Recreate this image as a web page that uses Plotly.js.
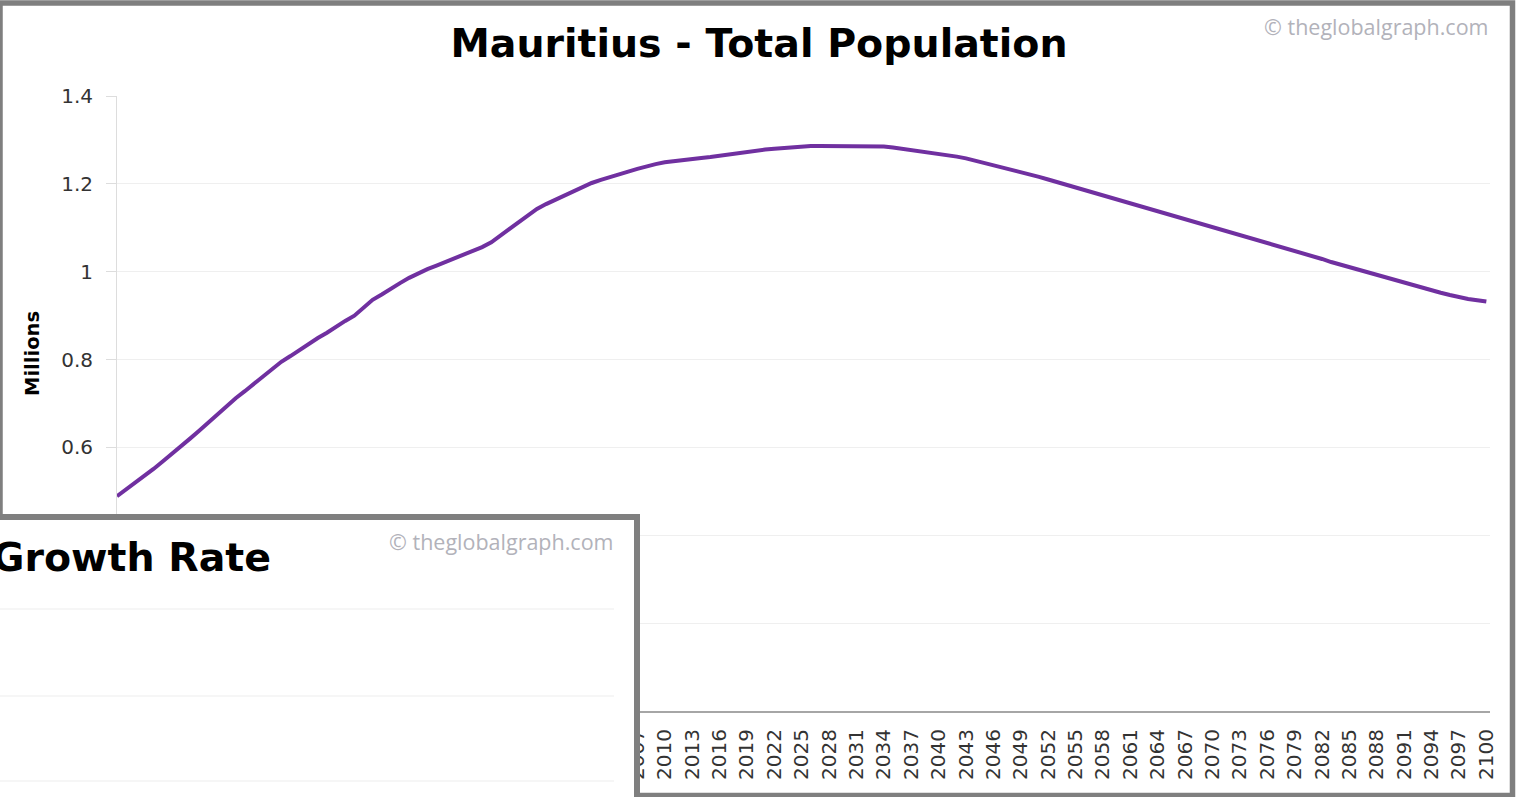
<!DOCTYPE html>
<html>
<head>
<meta charset="utf-8">
<script src="https://cdn.plot.ly/plotly-3.0.1.min.js"></script>
<style>
html,body{margin:0;padding:0;background:#fff;overflow:hidden;}
#chart{width:1518px;height:797px;}
</style>
</head>
<body>
<div id="chart"></div>
<script>
// ---- data ----
const years = [];
for (let y = 1950; y <= 2100; y++) years.push(y);

const populationMillions = [
  0.489,0.504,0.520,0.535,0.551,0.568,0.585,0.601,0.620,0.638, // 1950-1959
  0.657,0.676,0.694,0.712,0.728,0.745,0.762,0.778,0.795,0.808, // 1960-1969
  0.822,0.835,0.849,0.861,0.875,0.888,0.900,0.918,0.936,0.948, // 1970-1979
  0.962,0.974,0.986,0.997,1.006,1.014,1.022,1.030,1.038,1.047, // 1980-1989
  1.056,1.067,1.082,1.097,1.113,1.128,1.143,1.154,1.164,1.174, // 1990-1999
  1.184,1.194,1.202,1.209,1.216,1.222,1.228,1.234,1.240,1.245, // 2000-2009
  1.249,1.252,1.255,1.257,1.259,1.261,1.264,1.268,1.271,1.273, // 2010-2019
  1.276,1.278,1.280,1.282,1.284,1.285,1.286,1.286,1.286,1.286, // 2020-2029
  1.286,1.286,1.286,1.286,1.285,1.283,1.280,1.277,1.275,1.273, // 2030-2039
  1.270,1.266,1.262,1.258,1.253,1.248,1.243,1.238,1.233,1.228, // 2040-2049
  1.222,1.216,1.210,1.204,1.198,1.192,1.186,1.180,1.174,1.168, // 2050-2059
  1.162,1.156,1.150,1.145,1.139,1.133,1.127,1.121,1.115,1.109, // 2060-2069
  1.103,1.097,1.091,1.085,1.079,1.073,1.067,1.061,1.054,1.048, // 2070-2079
  1.042,1.035,1.029,1.022,1.016,1.010,1.004,0.998,0.992,0.986, // 2080-2089
  0.980,0.974,0.968,0.962,0.957,0.952,0.947,0.942,0.938,0.935, // 2090-2099
  0.932                                                         // 2100
];

// labels for 0 - 0.4 sit under the overlapping window in the reference
const yTickValues = [0, 0.2, 0.4, 0.6, 0.8, 1, 1.2, 1.4];
const yTickLabels = ["", "", "", "0.6", "0.8", "1", "1.2", "1.4"];

const mainTitle = "Mauritius - Total Population";
const insetTitle = "Growth Rate";
const watermark = "\u00a9 theglobalgraph.com";
const yTitle = "Millions";

// ---- layout helpers (pixel -> paper) ----
const W = 1518, H = 797;
const M = {l: 117, r: 28, t: 96, b: 86};
const PW = W - M.l - M.r, PH = H - M.t - M.b;
const px = v => (v - M.l) / PW;
const py = v => (H - M.b - v) / PH;

const FONT = "DejaVu Sans, Verdana, sans-serif";
const WFONT = "Open Sans, sans-serif";
const GREY = "#7f7f7f";

const trace = {
  type: "scatter",
  mode: "lines",
  x: years,
  y: populationMillions,
  line: {color: "#7030a0", width: 4},
  hoverinfo: "skip"
};

const shapes = [
  // outer window frame
  {type: "rect", xref: "paper", yref: "paper", layer: "above",
   x0: px(0), x1: px(1512.5), y0: py(3), y1: py(795.5),
   line: {color: GREY, width: 5.5}, fillcolor: "rgba(0,0,0,0)"},
  // overlapping second window (growth-rate chart)
  {type: "rect", xref: "paper", yref: "paper", layer: "above",
   x0: px(-20), x1: px(637), y0: py(517), y1: py(830),
   line: {color: GREY, width: 6}, fillcolor: "#ffffff"}
];
[609, 696, 781].forEach(g => shapes.push({
  type: "line", xref: "paper", yref: "paper", layer: "above",
  x0: px(-5), x1: px(614), y0: py(g), y1: py(g),
  line: {color: "#eeeeee", width: 1.2}
}));

const annotations = [
  {text: "<b>" + yTitle + "</b>", xref: "paper", yref: "paper",
   x: px(32), y: py(354), xanchor: "center", yanchor: "middle",
   textangle: -90, showarrow: false,
   font: {family: FONT, size: 19.5, color: "#000000"}},
  {text: watermark, xref: "paper", yref: "paper", x: px(1491), y: py(27),
   xanchor: "right", yanchor: "middle", showarrow: false,
   font: {family: WFONT, size: 21.5, color: "#b2b2ba"}},
  {text: "<b>" + insetTitle + "</b>", xref: "paper", yref: "paper",
   x: px(273), y: py(557), xanchor: "right", yanchor: "middle", showarrow: false,
   font: {family: FONT, size: 39.5, color: "#000000"}},
  {text: watermark, xref: "paper", yref: "paper", x: px(616), y: py(541),
   xanchor: "right", yanchor: "middle", showarrow: false,
   font: {family: WFONT, size: 21.5, color: "#b2b2ba"}}
];

const layout = {
  width: W, height: H,
  margin: M,
  paper_bgcolor: "#ffffff",
  plot_bgcolor: "#ffffff",
  showlegend: false,
  title: {
    text: "<b>" + mainTitle + "</b>",
    xref: "container", x: 0.5, xanchor: "center",
    yref: "container", y: 1 - 43 / H, yanchor: "middle",
    font: {family: FONT, size: 39.5, color: "#000000"}
  },
  xaxis: {
    range: [1950, 2100.4],
    tick0: 1950, dtick: 3,
    tickangle: -90,
    showgrid: false, zeroline: false,
    showline: true, linecolor: "#a6a6a6", linewidth: 2,
    ticks: "",
    ticklabelstandoff: 8,
    tickfont: {family: FONT, size: 20, color: "#333333"}
  },
  yaxis: {
    range: [0, 1.4],
    tickvals: yTickValues, ticktext: yTickLabels,
    showgrid: true, gridcolor: "#efefef", gridwidth: 1,
    zeroline: false,
    showline: true, linecolor: "#dddddd", linewidth: 1,
    ticks: "outside", ticklen: 10, tickcolor: "#dddddd",
    ticklabelstandoff: 9,
    tickfont: {family: FONT, size: 20, color: "#333333"}
  },
  shapes: shapes,
  annotations: annotations
};

Plotly.newPlot("chart", [trace], layout, {staticPlot: true, displayModeBar: false});
</script>
</body>
</html>
